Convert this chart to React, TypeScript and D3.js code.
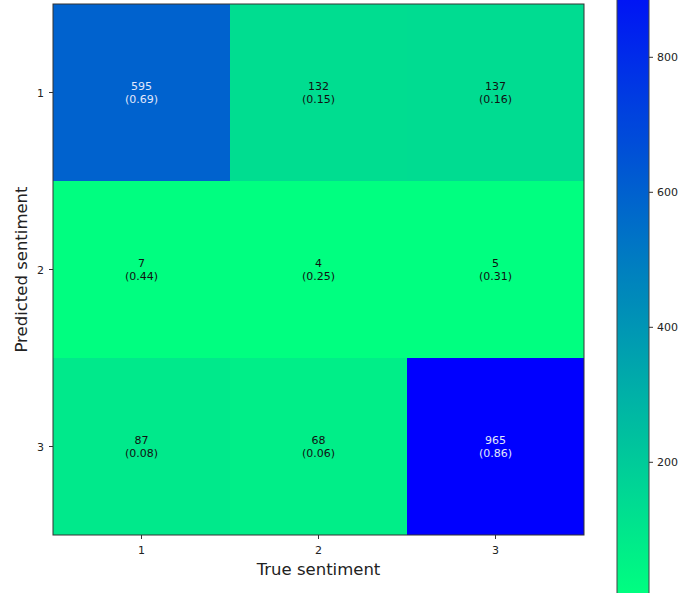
import React from "react";
import * as d3 from "d3";

// Confusion matrix counts: rows = predicted sentiment, columns = true sentiment
const predictedLabels = ["1", "2", "3"];
const trueLabels = ["1", "2", "3"];
const row1 = [595, 132, 137];
const row2 = [7, 4, 5];
const row3 = [87, 68, 965];
const counts = [row1, row2, row3];
const colorbarTicks = [200, 400, 600, 800];

const W = 697;
const H = 593;
const FONT = "'DejaVu Sans', sans-serif";

// matplotlib "winter_r": high = blue, low = spring green
const winterR = (t: number) => {
  const s = 1 - Math.max(0, Math.min(1, t));
  const g = Math.round(s * 255);
  const b = Math.round((1 - 0.5 * s) * 255);
  return `rgb(0,${g},${b})`;
};

export default function App() {
  const all = counts.flat();
  const vmin = d3.min(all) as number;
  const vmax = d3.max(all) as number;
  const norm = d3.scaleLinear().domain([vmin, vmax]).range([0, 1]);

  const left = 53, right = 584, top = 4, bottom = 535;
  const x = d3.scaleBand().domain(trueLabels).range([left, right]);
  const y = d3.scaleBand().domain(predictedLabels).range([top, bottom]);

  // colorbar geometry
  const cbLeft = 617, cbRight = 649;
  const cbY = d3.scaleLinear().domain([200, 800]).range([462.3, 57.3]);
  const cbTop = cbY(vmax);
  const cbBottom = cbY(vmin);

  const stops = d3.range(0, 1.0001, 0.05);
  const threshold = (vmax + vmin) / 2;

  return (
    <svg
      width={W}
      height={H}
      style={{ position: "absolute", left: 0, top: 0, background: "#fff" }}
      fontFamily={FONT}
    >
      <defs>
        <linearGradient id="cbgrad" x1="0" y1="1" x2="0" y2="0">
          {stops.map((s) => (
            <stop key={s} offset={s} stopColor={winterR(s)} />
          ))}
        </linearGradient>
      </defs>

      {/* heatmap cells */}
      {counts.map((row, i) =>
        row.map((v, j) => (
          <rect
            key={`c${i}-${j}`}
            x={x(trueLabels[j])}
            y={y(predictedLabels[i])}
            width={x.bandwidth()}
            height={y.bandwidth()}
            fill={winterR(norm(v))}
          />
        ))
      )}

      {/* cell annotations: count and row-normalised fraction */}
      {counts.map((row, i) => {
        const total = d3.sum(row);
        return row.map((v, j) => {
          const cx = (x(trueLabels[j]) as number) + x.bandwidth() / 2;
          const cy = (y(predictedLabels[i]) as number) + y.bandwidth() / 2;
          const fill = v > threshold ? "#e2e8fb" : "#111";
          return (
            <text
              key={`t${i}-${j}`}
              x={cx}
              fontSize={11}
              fill={fill}
              textAnchor="middle"
            >
              <tspan x={cx} y={cy - 3}>{v}</tspan>
              <tspan x={cx} y={cy + 10.5}>({(v / total).toFixed(2)})</tspan>
            </text>
          );
        });
      })}

      {/* axes frame */}
      <rect
        x={left}
        y={top}
        width={right - left}
        height={bottom - top}
        fill="none"
        stroke="#333"
        strokeWidth={1}
      />

      {/* y ticks */}
      {predictedLabels.map((p) => {
        const cy = (y(p) as number) + y.bandwidth() / 2;
        return (
          <g key={`yt${p}`}>
            <line x1={left - 4} x2={left} y1={cy} y2={cy} stroke="#333" />
            <text x={left - 9} y={cy + 4} fontSize={11} fill="#222" textAnchor="end">
              {p}
            </text>
          </g>
        );
      })}

      {/* x ticks */}
      {trueLabels.map((t) => {
        const cx = (x(t) as number) + x.bandwidth() / 2;
        return (
          <g key={`xt${t}`}>
            <line x1={cx} x2={cx} y1={bottom} y2={bottom + 4} stroke="#333" />
            <text x={cx} y={bottom + 19} fontSize={11} fill="#222" textAnchor="middle">
              {t}
            </text>
          </g>
        );
      })}

      {/* axis titles */}
      <text
        x={(left + right) / 2}
        y={575}
        fontSize={16.5}
        fill="#222"
        textAnchor="middle"
      >
        True sentiment
      </text>
      <text
        transform={`translate(27, ${(top + bottom) / 2}) rotate(-90)`}
        fontSize={16.5}
        fill="#222"
        textAnchor="middle"
      >
        Predicted sentiment
      </text>

      {/* colorbar */}
      <rect
        x={cbLeft}
        y={cbTop}
        width={cbRight - cbLeft}
        height={cbBottom - cbTop}
        fill="url(#cbgrad)"
        stroke="#444"
        strokeWidth={1}
      />
      {colorbarTicks.map((t) => (
        <g key={`cb${t}`}>
          <line x1={cbRight} x2={cbRight + 4} y1={cbY(t)} y2={cbY(t)} stroke="#333" />
          <text x={cbRight + 8} y={cbY(t) + 4} fontSize={11} fill="#222">
            {t}
          </text>
        </g>
      ))}
    </svg>
  );
}
